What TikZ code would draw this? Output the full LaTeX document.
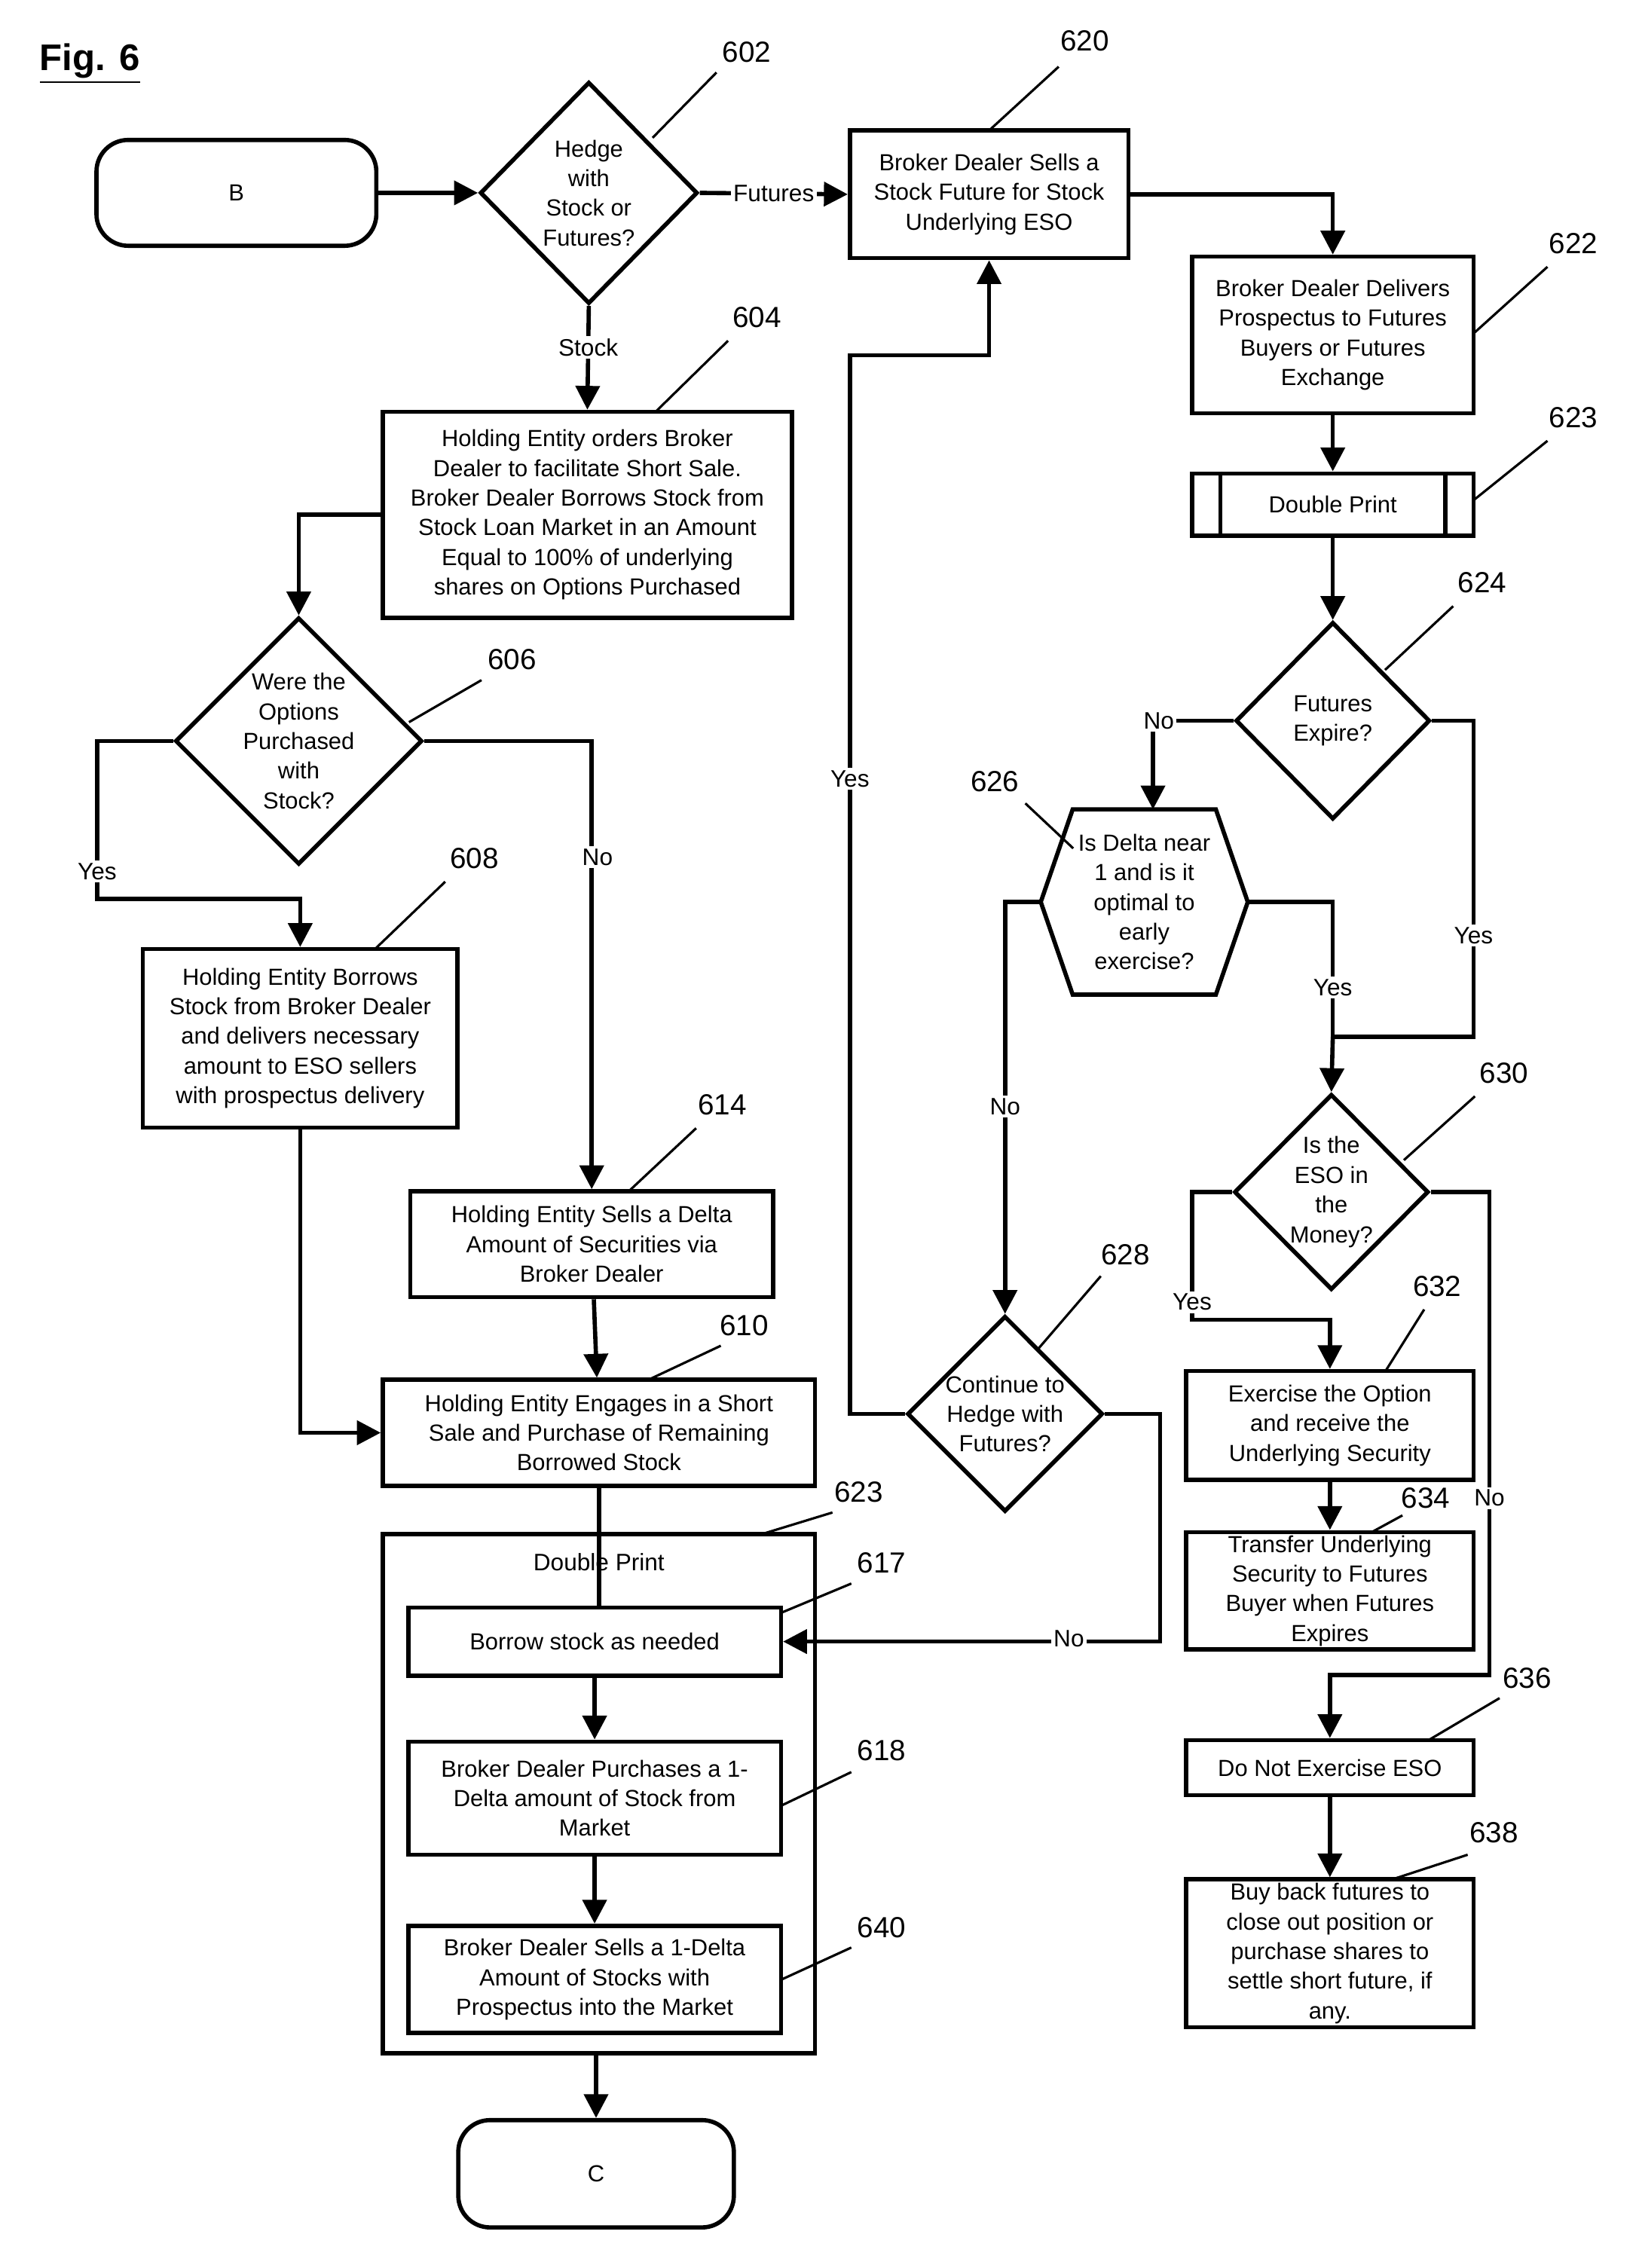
\documentclass[tikz,border=0pt]{standalone}
\usepackage{fontspec}
\setmainfont{Liberation Sans}
\usetikzlibrary{shapes.geometric,arrows.meta,calc}
\def\pu{0.01925cm}
\tikzset{
  box/.style={draw, line width=1.6pt, align=center, inner sep=0pt, font=\fontsize{8.8}{11.2}\selectfont},
  dia/.style={draw, diamond, aspect=1, line width=1.6pt, align=center, inner sep=0pt, font=\fontsize{8.8}{11.2}\selectfont},
  term/.style={box, rounded corners=12pt},
  flow/.style={line width=1.6pt, -{Triangle[length=9pt,width=9pt]}},
  link/.style={line width=1.6pt},
  lbl/.style={fill=white, inner sep=1pt, font=\fontsize{9}{11}\selectfont},
  refno/.style={font=\fontsize{11}{13}\selectfont},
  lead/.style={line width=0.9pt}
}
\begin{document}
\begin{tikzpicture}[x=0.01925cm, y=-0.01925cm]
\useasboundingbox (0,0) rectangle (1130,1564);
\node[font=\bfseries\fontsize{14}{16}\selectfont] (fig) at (62,44) {\underline{Fig. 6}};
% left column
\node[term, minimum width=193*\pu, minimum height=73*\pu] (b) at (163,133) {B};
\node[dia, minimum width=150*\pu, minimum height=153*\pu] (d602) at (406,133) {Hedge\\with\\Stock or\\Futures?};
\node[box, minimum width=282*\pu, minimum height=142*\pu] (b604) at (405,355) {Holding Entity orders Broker\\Dealer to facilitate Short Sale.\\Broker Dealer Borrows Stock from\\Stock Loan Market in an Amount\\Equal to 100\% of underlying\\shares on Options Purchased};
\node[dia, minimum width=166*\pu, minimum height=168*\pu] (d606) at (206,511) {Were the\\Options\\Purchased\\with\\Stock?};
\node[box, minimum width=217*\pu, minimum height=123*\pu] (b608) at (207,716) {Holding Entity Borrows\\Stock from Broker Dealer\\and delivers necessary\\amount to ESO sellers\\with prospectus delivery};
\node[box, minimum width=250*\pu, minimum height=73*\pu] (b614) at (408,858) {Holding Entity Sells a Delta\\Amount of Securities via\\Broker Dealer};
\node[box, minimum width=298*\pu, minimum height=73*\pu] (b610) at (413,988) {Holding Entity Engages in a Short\\Sale and Purchase of Remaining\\Borrowed Stock};
\node[box, minimum width=298*\pu, minimum height=358*\pu] (g623) at (413,1237) {};
\node[font=\fontsize{9}{11}\selectfont] (t623) at (413,1077) {Double Print};
\node[box, minimum width=257*\pu, minimum height=47*\pu] (b617) at (410,1132) {Borrow stock as needed};
\node[box, minimum width=257*\pu, minimum height=78*\pu] (b618) at (410,1240) {Broker Dealer Purchases a 1-\\Delta amount of Stock from\\Market};
\node[box, minimum width=257*\pu, minimum height=74*\pu] (b640) at (410,1365) {Broker Dealer Sells a 1-Delta\\Amount of Stocks with\\Prospectus into the Market};
\node[term, minimum width=190*\pu, minimum height=74*\pu] (c) at (411,1499) {C};
% middle and right columns
\node[box, minimum width=192*\pu, minimum height=88*\pu] (b620) at (682,134) {Broker Dealer Sells a\\Stock Future for Stock\\Underlying ESO};
\node[box, minimum width=194*\pu, minimum height=108*\pu] (b622) at (919,231) {Broker Dealer Delivers\\Prospectus to Futures\\Buyers or Futures\\Exchange};
\node[box, minimum width=194*\pu, minimum height=43*\pu] (b623) at (919,348) {Double Print};
\draw[link] ($(b623.north west)+(21,0)$) -- ($(b623.south west)+(21,0)$);
\draw[link] ($(b623.north east)+(-21,0)$) -- ($(b623.south east)+(-21,0)$);
\node[dia, minimum width=134*\pu, minimum height=136*\pu] (d624) at (919,497) {Futures\\Expire?};
\node[align=center, inner sep=0pt, minimum width=142*\pu, minimum height=127*\pu, font=\fontsize{8.8}{11.2}\selectfont] (h626) at (789,622) {Is Delta near\\1 and is it\\optimal to\\early\\exercise?};
\draw[link] (h626.west) -- ($(h626.north west)+(22,0)$) -- ($(h626.north east)+(-22,0)$) -- (h626.east) -- ($(h626.south east)+(-22,0)$) -- ($(h626.south west)+(22,0)$) -- cycle;
\node[dia, minimum width=132*\pu, minimum height=135*\pu] (d628) at (693,975) {Continue to\\Hedge with\\Futures?};
\node[dia, minimum width=134*\pu, minimum height=135*\pu] (d630) at (918,822) {Is the\\ESO in\\the\\Money?};
\node[box, minimum width=198*\pu, minimum height=75*\pu] (b632) at (917,983) {Exercise the Option\\and receive the\\Underlying Security};
\node[box, minimum width=198*\pu, minimum height=81*\pu] (b634) at (917,1097) {Transfer Underlying\\Security to Futures\\Buyer when Futures\\Expires};
\node[box, minimum width=198*\pu, minimum height=38*\pu] (b636) at (917,1219) {Do Not Exercise ESO};
\node[box, minimum width=198*\pu, minimum height=102*\pu] (b638) at (917,1347) {Buy back futures to\\close out position or\\purchase shares to\\settle short future, if\\any.};
% connectors
\draw[flow] (b) -- (d602);
\draw[flow] (d602.east) -- node[lbl] (l602f) {Futures} (b620.west);
\draw[flow] (d602.south) -- node[lbl, pos=0.4] (l602s) {Stock} (b604.north);
\draw[flow] (b620.east) -| (b622.north);
\draw[flow] (b622) -- (b623);
\draw[flow] (b623) -- (d624);
\coordinate (k624) at (795,497);
\draw[flow] (d624.west) -- (k624) -- (h626.north -| k624);
\node[lbl] (l624n) at (799,497) {No};
\coordinate (k630) at (919,715);
\draw[link] (d624.east) -| (1016,715) -- (k630);
\node[lbl] (l624y) at (1016,645) {Yes};
\draw[link] (h626.east) -| (k630);
\node[lbl] (l626y) at (919,681) {Yes};
\draw[flow] (k630) -- (d630.north);
\draw[flow] (h626.west) -| (d628.north);
\node[lbl] (l626n) at (693,763) {No};
\draw[flow] (d628.west) -| (586,245) -| (b620.south);
\node[lbl] (l628y) at (586,537) {Yes};
\draw[flow] (d628.east) -| (800,1132) -- (b617.east);
\node[lbl] (l628n) at (737,1130) {No};
\draw[flow] (b604.west) -| (d606.north);
\draw[flow] (d606.west) -| (67,620) -- (b608.north |- 0,620) -- (b608.north);
\node[lbl] (l606y) at (67,601) {Yes};
\draw[flow] (d606.east) -| (b614.north);
\node[lbl] (l606n) at (412,591) {No};
\draw[flow] (b608.south) |- (b610.west);
\draw[flow] (b614) -- (b610);
\draw[link] (b610.south) -- (b617.north -| b610.south);
\draw[flow] (b617) -- (b618);
\draw[flow] (b618) -- (b640);
\draw[flow] (g623.south -| c.north) -- (c.north);
\draw[flow] (d630.west) -| (822,910) -- (b632.north |- 0,910) -- (b632.north);
\node[lbl] (l630y) at (822,898) {Yes};
\draw[flow] (d630.east) -| (1027,1155) -- (b636.north |- 0,1155) -- (b636.north);
\node[lbl] (l630n) at (1027,1033) {No};
\draw[flow] (b632) -- (b634);
\draw[flow] (b636) -- (b638);
% reference numerals
\foreach \n/\x/\y/\ax/\ay/\bx/\by in {602/515/36/450/95/494/50, 620/748/28/682/90/730/46, 622/1085/168/1016/230/1067/184, 623/1085/288/1016/345/1067/304, 624/1022/402/955/462/1002/418, 604/522/219/452/284/502/235, 606/353/455/282/498/332/469, 608/327/592/258/655/307/608, 614/498/762/433/822/480/778, 628/776/865/716/930/759/880, 630/1037/740/968/800/1017/756, 632/991/887/955/946/982/903, 634/983/1033/945/1057/967/1045, 610/513/914/446/952/497/928, 623/592/1029/525/1058/574/1043, 617/608/1078/539/1112/587/1092, 618/608/1207/539/1245/587/1222, 640/608/1329/539/1365/587/1343, 636/1053/1157/985/1200/1034/1171, 638/1030/1264/960/1296/1012/1279}{
  \node[refno] (r\n) at (\x,\y) {\n};
  \draw[lead] (\ax,\ay) -- (\bx,\by);
}
\node[refno] (r626) at (686,539) {626};
\draw[lead] (740,585) -- (707,554);
\end{tikzpicture}
\end{document}
